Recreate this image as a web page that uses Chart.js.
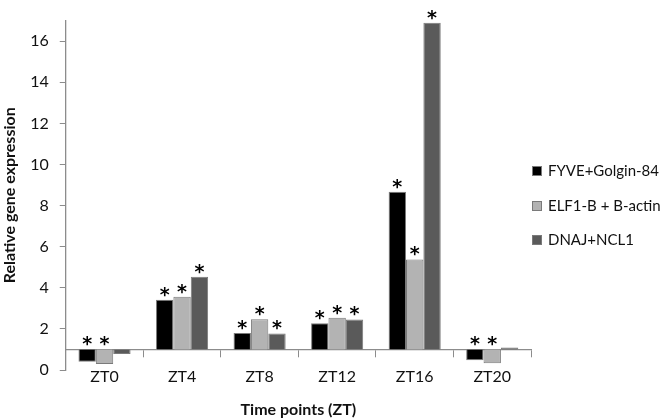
<!DOCTYPE html>
<html><head><meta charset="utf-8">
<script src="https://cdn.jsdelivr.net/npm/chart.js@4/dist/chart.umd.min.js"></script>
<style>html,body{margin:0;padding:0;background:#fff}#wrap{width:661px;height:419px;position:relative}</style>
</head><body><div id="wrap"><canvas id="c" width="661" height="419"></canvas></div>
<script>
// ---- data ----
const categories = ['ZT0', 'ZT4', 'ZT8', 'ZT12', 'ZT16', 'ZT20'];
const seriesNames = ['FYVE+Golgin-84', 'ELF1-B + B-actin', 'DNAJ+NCL1'];
const fyveGolgin = [0.40, 3.42, 1.80, 2.27, 8.67, 0.48];
const elfActin   = [0.29, 3.57, 2.47, 2.54, 5.38, 0.33];
const dnajNcl    = [0.78, 4.54, 1.78, 2.46, 16.9, 1.10];
// significance markers (1 = asterisk)
const sigFyve = [1, 1, 1, 1, 1, 1];
const sigElf  = [1, 1, 1, 1, 1, 1];
const sigDnaj = [0, 1, 1, 1, 1, 0];
const yTicks = [0, 2, 4, 6, 8, 10, 12, 14, 16];
const baseline = 1;

const FONT = 'Lato, "Open Sans", sans-serif';
const sigs = [sigFyve, sigElf, sigDnaj];
const fills = ['#000000', '#b3b3b3', '#5a5a5a'];
const borders = ['#7a7a7a', '#7a7a7a', '#7a7a7a'];

const sigPlugin = {
  id: 'sig',
  afterDatasetsDraw(chart) {
    const ctx = chart.ctx;
    const basePx = chart.scales.y.getPixelForValue(baseline);
    ctx.save();
    ctx.font = 'bold 19px "DejaVu Sans"';
    ctx.textAlign = 'center';
    ctx.textBaseline = 'alphabetic';
    ctx.fillStyle = '#000';
    chart.data.datasets.forEach((ds, di) => {
      const meta = chart.getDatasetMeta(di);
      meta.data.forEach((bar, i) => {
        if (!sigs[di][i]) return;
        const top = Math.min(bar.y, basePx);
        ctx.fillText('*', bar.x, top + 1);
      });
    });
    ctx.restore();
  }
};

const legendPlugin = {
  id: 'customLegend',
  afterDraw(chart) {
    const ctx = chart.ctx;
    const ys = [171, 206, 240];
    ctx.save();
    ctx.font = '15px ' + FONT;
    ctx.textBaseline = 'middle';
    ctx.textAlign = 'left';
    chart.data.datasets.forEach((ds, i) => {
      const y = ys[i];
      ctx.fillStyle = ds.backgroundColor;
      ctx.fillRect(532, y - 5, 10, 10);
      ctx.strokeStyle = '#7a7a7a';
      ctx.lineWidth = 1;
      ctx.strokeRect(532.5, y - 4.5, 9, 9);
      ctx.fillStyle = '#111';
      ctx.fillText(ds.label, 548, y);
    });
    ctx.restore();
  }
};

const datasets = [fyveGolgin, elfActin, dnajNcl].map((d, i) => ({
  label: seriesNames[i],
  data: d,
  base: baseline,
  backgroundColor: fills[i],
  borderColor: borders[i],
  borderWidth: 1,
  barPercentage: 1,
  categoryPercentage: 0.672
}));

new Chart(document.getElementById('c'), {
  type: 'bar',
  data: { labels: categories, datasets },
  options: {
    responsive: false,
    animation: false,
    devicePixelRatio: 1,
    layout: { padding: { left: 0, right: 130, top: 14, bottom: 49 } },
    plugins: { legend: { display: false }, tooltip: { enabled: false } },
    scales: {
      x: {
        position: { y: baseline },
        grid: { offset: true, drawOnChartArea: false, drawTicks: true, tickLength: 7, color: '#8c8c8c', lineWidth: 1 },
        border: { display: true, color: '#8c8c8c', width: 1.3 },
        ticks: { color: '#111', font: { family: FONT, size: 16 }, padding: 11, maxRotation: 0 },
        title: { display: true, text: 'Time points (ZT)', color: '#111', font: { family: FONT, size: 16, weight: 'bold' }, padding: { top: 3, bottom: 0 } }
      },
      y: {
        min: 0, max: 17,
        afterBuildTicks: (s) => { s.ticks = yTicks.map(v => ({ value: v })); },
        grid: { drawOnChartArea: false, drawTicks: true, tickLength: 6, color: '#8c8c8c' },
        border: { display: true, color: '#8c8c8c', width: 1.3 },
        ticks: { color: '#111', font: { family: FONT, size: 16 }, padding: 11 },
        title: { display: true, text: 'Relative gene expression', color: '#111', font: { family: FONT, size: 16, weight: 'bold' }, padding: 0 }
      }
    }
  },
  plugins: [sigPlugin, legendPlugin]
});
</script></body></html>
